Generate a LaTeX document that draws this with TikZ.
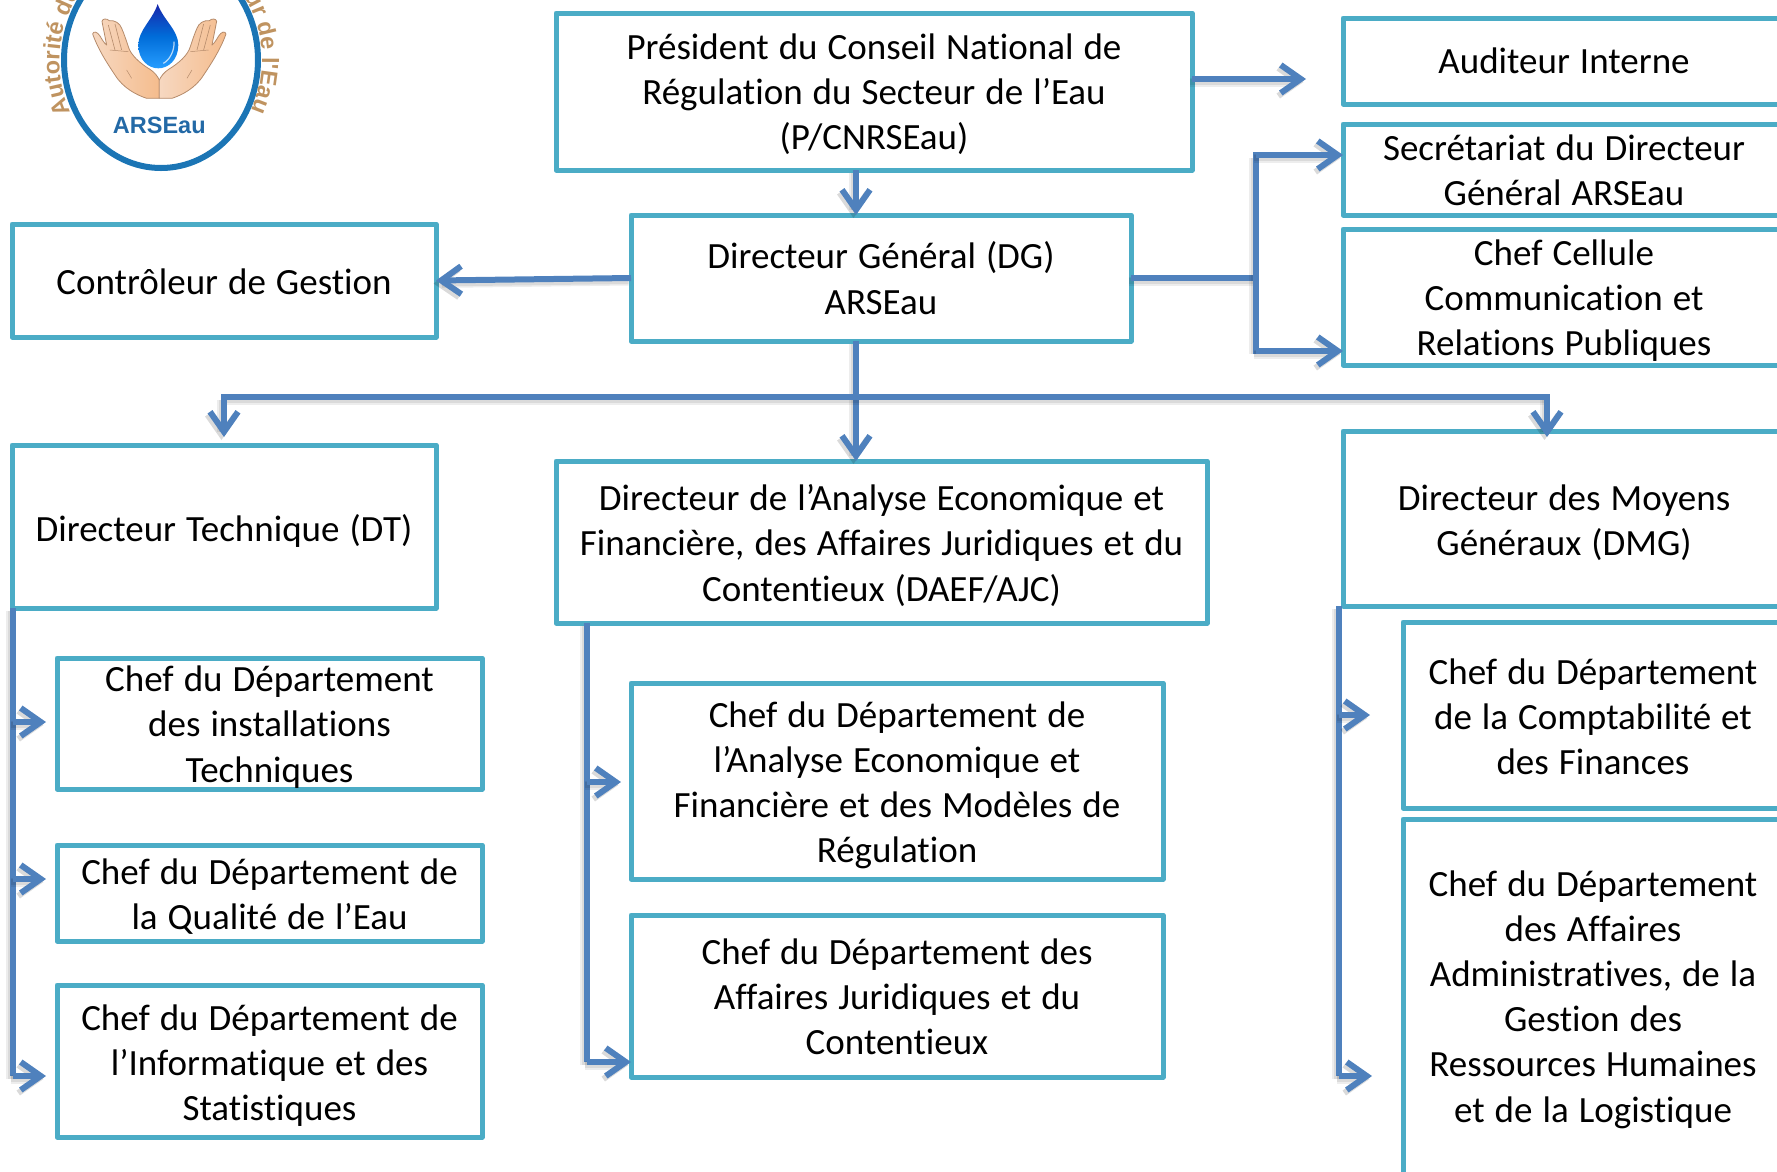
\documentclass[tikz,border=0pt]{standalone}
\usepackage{fontspec}
\setmainfont{Carlito}[Ligatures=NoCommon,WordSpace=1.2]
\newfontfamily\logofont{Liberation Sans}
\usetikzlibrary{arrows.meta,decorations.text}
\definecolor{boxcol}{HTML}{4BACC6}
\definecolor{conncol}{HTML}{4F81BD}
\definecolor{logoblue}{HTML}{1B75B5}
\definecolor{logodark}{HTML}{2369A6}
\definecolor{logogold}{HTML}{BF9360}
\definecolor{skin}{HTML}{F3C7A6}
\definecolor{skinb}{HTML}{B58B6B}
\tikzset{
  orgbox/.style={draw=boxcol,line width=5pt,fill=white,inner sep=0pt,outer sep=0pt,line join=round,rectangle},
  lbl/.style={inner sep=0pt,outer sep=0pt,align=center,text=black,font=\fontsize{37}{45.2}\selectfont},
  wire/.style={draw=conncol,line width=6pt,
    preaction={draw=black,opacity=.07,line width=9pt,transform canvas={shift={(-2.5pt,-3pt)}}},
    preaction={draw=black,opacity=.08,line width=6pt,transform canvas={shift={(-2.5pt,-3pt)}}}},
  conn/.style={wire,-{Straight Barb[length=20pt,width=28pt,line width=6pt]}},
}
\newcommand{\orgb}[7][0]{%
  \node[orgbox,minimum width={(#5-#3)*1pt},minimum height={(#6-#4)*1pt},
    label={[lbl,yshift=-#1pt]center:{#7}}] (#2) at ({(#3+#5)/2},{(#4+#6)/2}) {};}
\begin{document}
\begin{tikzpicture}[x=1pt,y=-1pt]
\useasboundingbox (0,0) rectangle (1777,1171);
% logo
\draw[logoblue,line width=6pt] (161,60) ellipse [x radius=97,y radius=108];
\begin{scope}[x=1pt,y=1pt]
\path[decorate,decoration={text along path,text align={left},
  text={|\logofont\bfseries\fontsize{23.5}{24}\selectfont\color{logogold}|Autorité de |\logofont\bfseries\fontsize{11}{12}\selectfont\color{logogold}|Régulation}}]
  (70.5,-112) arc [start angle=207,end angle=92,x radius=101,y radius=112];
\path[decorate,decoration={text along path,text align={right},
  text={|\logofont\bfseries\fontsize{10}{12}\selectfont\color{logogold}|du Secte|\logofont\bfseries\fontsize{23.5}{24}\selectfont\color{logogold}|ur de l'Eau}}]
  (157.5,52) arc [start angle=92,end angle=-27,x radius=101,y radius=112];
\end{scope}
\begin{scope}[x=.3333pt,y=-.3333pt]
  \foreach \m/\o in {1/0,-1/956}{
  \begin{scope}[shift={(\o,0)},xscale=\m]
    \draw[draw=skinb,line width=.8pt,left color=skin!70!white,right color=skin!85!orange,line join=round]
      (478,295) -- (440,295) .. controls (410,285) and (370,265) .. (345,225)
      .. controls (325,195) and (295,150) .. (278,102)
      .. controls (280,92) and (292,95) .. (300,108)
      .. controls (307,120) and (313,130) .. (320,135)
      .. controls (315,110) and (310,85) .. (306,64)
      .. controls (308,55) and (320,55) .. (328,62)
      .. controls (345,60) and (360,70) .. (365,85)
      .. controls (372,100) and (380,125) .. (385,140)
      .. controls (392,165) and (420,190) .. (450,208)
      .. controls (465,218) and (472,228) .. (478,240) -- cycle;
    \draw[skinb,line width=.6pt] (325,75) -- (345,150) (345,72) -- (365,150);
    \draw[skinb,line width=.5pt] (330,150) -- (385,155) (380,210) -- (395,235);
  \end{scope}}
  \shade[top color=conncol!40!blue!75!black,bottom color=cyan!55!blue!85!white,middle color=blue!50!cyan!85!black]
    (473,12) .. controls (490,60) and (535,90) .. (535,135)
    .. controls (535,180) and (505,205) .. (475,205)
    .. controls (445,205) and (415,180) .. (415,135)
    .. controls (415,90) and (458,60) .. (473,12) -- cycle;
  \draw[white,opacity=.7,line width=1.2pt] (522,125) .. controls (524,150) and (510,180) .. (490,190);
  \node[inner sep=0pt,text=logodark,font=\logofont\bfseries\fontsize{23.5}{24}\selectfont] (logotxt) at (478,375) {ARSEau};
\end{scope}
% boxes
\orgb[3]{pres}{556}{13}{1192}{170}{Président du Conseil National de\\Régulation du Secteur de l’Eau\\(P/CNRSEau)}
\orgb{audit}{1343}{18}{1785}{104}{Auditeur Interne}
\orgb[1]{sec}{1343}{124}{1785}{215}{Secrétariat du Directeur\\Général ARSEau}
\orgb[3.5]{cell}{1343}{229}{1785}{365}{Chef Cellule\\Communication et\\Relations Publiques}
\orgb{dg}{631}{215}{1131}{341}{Directeur Général (DG)\\ARSEau}
\orgb[1]{ctrl}{12}{224}{436}{337}{Contrôleur de Gestion}
\orgb[4.5]{dt}{12}{445}{436}{608}{Directeur Technique (DT)}
\orgb[3.5]{daef}{556}{461}{1207}{623}{Directeur de l’Analyse Economique et\\Financière, des Affaires Juridiques et du\\Contentieux (DAEF/AJC)}
\orgb[4.5]{dmg}{1343}{431}{1785}{606}{Directeur des Moyens\\Généraux (DMG)}
\orgb[3.5]{inst}{57}{658}{482}{789}{Chef du Département\\des installations\\Techniques}
\orgb[3.5]{qual}{57}{845}{482}{941}{Chef du Département de\\la Qualité de l’Eau}
\orgb[4.5]{info}{57}{985}{482}{1137}{Chef du Département de\\l’Informatique et des\\Statistiques}
\orgb[4.5]{anal}{631}{683}{1163}{879}{Chef du Département de\\l’Analyse Economique et\\Financière et des Modèles de\\Régulation}
\orgb[1]{jur}{631}{915}{1163}{1077}{Chef du Département des\\Affaires Juridiques et du\\Contentieux}
\orgb[2]{compta}{1403}{622}{1783}{808}{Chef du Département\\de la Comptabilité et\\des Finances}
\orgb[2]{adm}{1403}{819}{1783}{1176}{Chef du Département\\des Affaires\\Administratives, de la\\Gestion des\\Ressources Humaines\\et de la Logistique}
% connector junctions
\coordinate (auditend) at (1306,79);
\coordinate (trunk) at (856,397);
\coordinate (busl) at (224,397);
\coordinate (busr) at (1547,397);
\coordinate (dtend) at (224,437);
\coordinate (dmgend) at (1547,437);
\coordinate (secj) at (1256,155);
\coordinate (cellj) at (1256,351);
\coordinate (dtj) at (13,1076);
\coordinate (instend) at (46,722);
\coordinate (qualend) at (46,879);
\coordinate (infoend) at (46,1076);
\coordinate (daefj) at (587,1062);
\coordinate (analend) at (621,782);
\coordinate (dmgj) at (1339,1076);
\coordinate (comptaend) at (1370,715);
\coordinate (admend) at (1372,1076);
% connectors
\draw[conn] (pres.east |- auditend) -- (auditend);
\draw[conn] (pres.south -| trunk) -- (dg.north -| trunk);
\draw[conn] (dg.west) -- (ctrl.east);
\draw[wire] (dg.east) -- (dg.east -| secj);
\draw[wire,line cap=rect] (secj) -- (cellj);
\draw[conn] (secj) -- (secj -| sec.west);
\draw[conn] (cellj) -- (cellj -| cell.west);
\draw[conn] (dg.south -| trunk) -- (daef.north -| trunk);
\draw[wire,line cap=rect] (busl) -- (busr);
\draw[conn] (busl) -- (dtend);
\draw[conn] (busr) -- (dmgend);
\draw[wire] (dt.south west -| dtj) -- (dtj);
\draw[conn] (instend -| dtj) -- (instend);
\draw[conn] (qualend -| dtj) -- (qualend);
\draw[conn] (dtj) -- (infoend);
\draw[wire] (daef.south -| daefj) -- (daefj);
\draw[conn] (analend -| daefj) -- (analend);
\draw[conn] (daefj) -- (daefj -| jur.west);
\draw[wire] (dmg.south -| dmgj) -- (dmgj);
\draw[conn] (comptaend -| dmgj) -- (comptaend);
\draw[conn] (dmgj) -- (admend);
\end{tikzpicture}
\end{document}
